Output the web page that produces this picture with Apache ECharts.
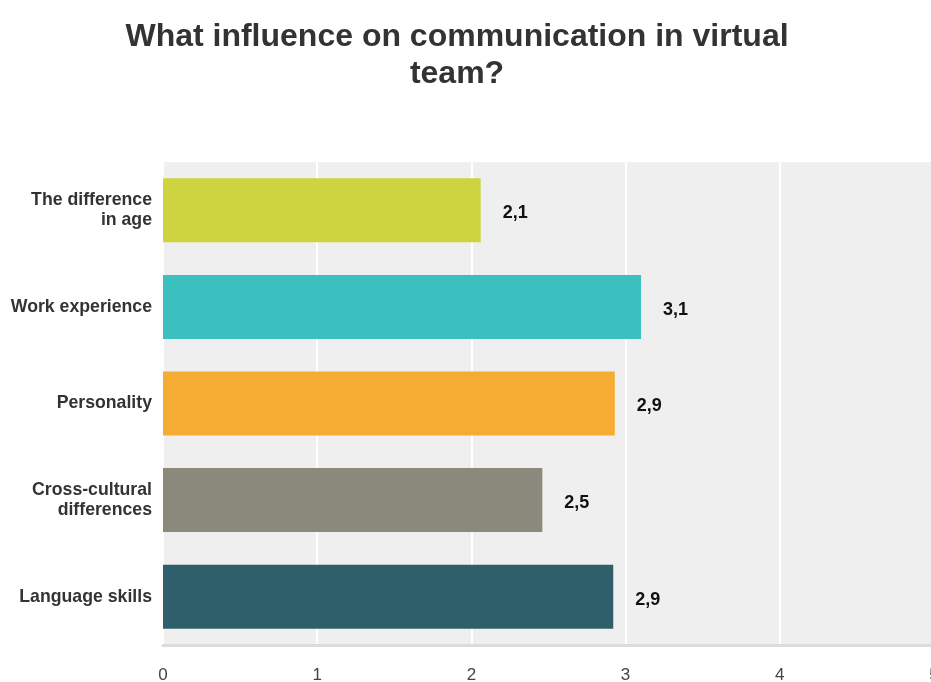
<!DOCTYPE html>
<html>
<head>
<meta charset="utf-8">
<title>What influence on communication in virtual team?</title>
<script src="https://cdn.jsdelivr.net/npm/echarts@6/dist/echarts.min.js"></script>
<style>
  html, body { margin: 0; padding: 0; background: #ffffff; overflow: hidden; }
  #chart { width: 931px; height: 682px; }
</style>
</head>
<body>
<div id="chart"></div>
<script>
// Survey factors (top to bottom) and their mean ratings
const categories = [
  'The difference\nin age',
  'Work experience',
  'Personality',
  'Cross-cultural\ndifferences',
  'Language skills'
];
const ratings = [2.06, 3.10, 2.93, 2.46, 2.92];
const barColors = ['#cdd43f', '#3bbfbf', '#f5ac33', '#8a897b', '#2f5f6b'];
const xTicks = [0, 1, 2, 3, 4, 5];

const chart = echarts.init(document.getElementById('chart'), null, { renderer: 'canvas' });

const fmtComma = v => v.toFixed(1).replace('.', ',');
const FONT = 'Liberation Sans, Arial, sans-serif';

chart.setOption({
  animation: false,
  backgroundColor: '#ffffff',
  title: {
    text: 'What influence on communication in virtual\nteam?',
    left: 452,
    textAlign: 'center',
    top: 14,
    textStyle: {
      fontFamily: FONT,
      fontWeight: 'bold',
      fontSize: 32,
      lineHeight: 37,
      color: '#333333'
    }
  },
  grid: {
    left: 163,
    width: 771,
    top: 162,
    height: 483,
    containLabel: false,
    outerBoundsMode: 'none',
    show: true,
    backgroundColor: '#efefef',
    borderWidth: 0
  },
  xAxis: {
    type: 'value',
    min: xTicks[0],
    max: xTicks[xTicks.length - 1],
    interval: 1,
    axisLine: { show: true, lineStyle: { color: '#dcdcdc', width: 3 } },
    axisTick: { show: false },
    splitLine: { show: true, lineStyle: { color: '#ffffff', width: 2 } },
    axisLabel: {
      margin: 22,
      fontFamily: FONT,
      fontSize: 17,
      color: '#444444',
      formatter: v => String(v)
    }
  },
  yAxis: {
    type: 'category',
    data: categories,
    inverse: true,
    axisLine: { show: false },
    axisTick: { show: false },
    splitLine: { show: false },
    axisLabel: {
      margin: 11,
      padding: [6, 0, 0, 0],
      fontFamily: FONT,
      fontWeight: 'bold',
      fontSize: 17.7,
      lineHeight: 20,
      color: '#333333',
      align: 'right'
    }
  },
  series: [{
    type: 'bar',
    data: ratings.map((v, i) => ({ value: v, itemStyle: { color: barColors[i] } })),
    barWidth: 64,
    label: {
      show: true,
      position: 'right',
      distance: 22,
      offset: [0, 3],
      fontFamily: FONT,
      fontWeight: 'bold',
      fontSize: 18,
      color: '#111111',
      formatter: p => fmtComma(p.value)
    }
  }]
});
</script>
</body>
</html>
